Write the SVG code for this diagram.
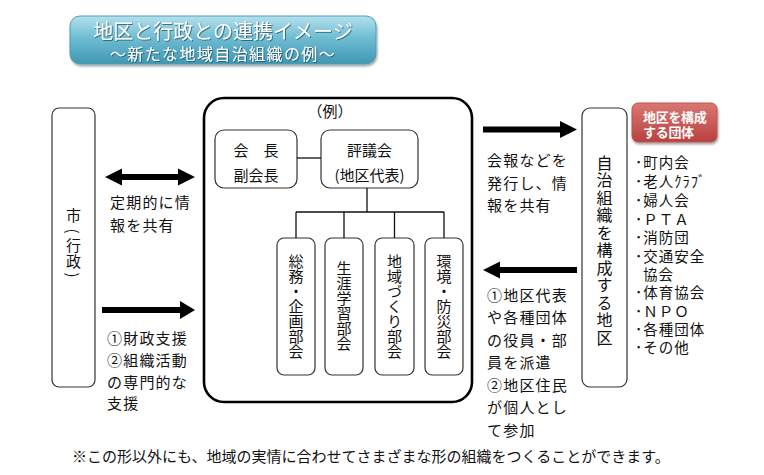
<svg xmlns="http://www.w3.org/2000/svg" width="764" height="475" viewBox="0 0 764 475">
<defs>
<linearGradient id="gTitle" x1="0" y1="0" x2="0" y2="1">
<stop offset="0" stop-color="#b5e0ec"/>
<stop offset="0.45" stop-color="#6fbdd3"/>
<stop offset="1" stop-color="#3f97b3"/>
</linearGradient>
<linearGradient id="gRed" x1="0" y1="0" x2="0" y2="1">
<stop offset="0" stop-color="#d97773"/>
<stop offset="1" stop-color="#b8423f"/>
</linearGradient>
<filter id="sh" x="-10%" y="-20%" width="120%" height="150%">
<feDropShadow dx="1" dy="2" stdDeviation="1.2" flood-color="#000" flood-opacity="0.35"/>
</filter>
<filter id="tsh" x="-5%" y="-20%" width="110%" height="150%">
<feDropShadow dx="0.8" dy="0.8" stdDeviation="0.7" flood-color="#164b5c" flood-opacity="0.9"/>
</filter>
</defs>
<style>
text{font-family:"Noto Sans CJK JP","Noto Sans CJK SC",sans-serif;fill:#111;}
.t15{font-size:15px;letter-spacing:1.2px;}
.box{fill:#fff;stroke:#333;stroke-width:1.2;}
.vt{writing-mode:vertical-rl;font-size:15px;text-anchor:middle;}
.ch{font-size:15px;text-anchor:middle;}
.ln{stroke:#111;stroke-width:1.3;fill:none;}
.arr{fill:#000;}
.lst{font-size:14.5px;letter-spacing:1px;}
</style>
<rect width="764" height="475" fill="#fff"/>

<g id="title">
<rect x="70" y="16" width="306" height="48" rx="10" fill="url(#gTitle)" stroke="#4a9fb8" stroke-width="1" filter="url(#sh)"/>
<text x="223" y="39" text-anchor="middle" style="font-size:20px;fill:#fff" filter="url(#tsh)">地区と行政との連携イメージ</text>
<text x="223" y="60" text-anchor="middle" style="font-size:16px;letter-spacing:1.4px;fill:#fff" filter="url(#tsh)">～新たな地域自治組織の例～</text>
</g>

<g id="city">
<rect class="box" x="52" y="108" width="43" height="279" rx="7"/>
<text class="ch" x="73.5" y="220.5">市</text>
<text class="ch" transform="translate(73.5,231) rotate(90)" dominant-baseline="central" x="0" y="0">(</text>
<text class="ch" x="73.5" y="251">行</text>
<text class="ch" x="73.5" y="267">政</text>
<text class="ch" transform="translate(73.5,275) rotate(90)" dominant-baseline="central" x="0" y="0">)</text>
</g>

<g id="example-frame">
<rect x="204" y="98" width="268" height="304" rx="20" fill="#fff" stroke="#000" stroke-width="2.6"/>
<text x="330" y="117" text-anchor="middle" style="font-size:15px">（例）</text>
</g>

<g id="chair">
<rect class="box" x="215" y="130" width="82" height="58" rx="9"/>
<text x="256" y="156" text-anchor="middle" style="font-size:15px">会　長</text>
<text x="256" y="181" text-anchor="middle" style="font-size:15px">副会長</text>
</g>

<g id="council">
<rect class="box" x="321" y="130" width="97" height="58" rx="9"/>
<text x="369.5" y="156" text-anchor="middle" style="font-size:15px">評議会</text>
<text x="369.5" y="181" text-anchor="middle" style="font-size:15px">(地区代表)</text>
</g>

<g id="sub1">
<rect class="box" x="277" y="238" width="38" height="137" rx="7"/>
<text class="vt" x="296" y="306">総務・企画部会</text>
</g>
<g id="sub2">
<rect class="box" x="325" y="238" width="38" height="137" rx="7"/>
<text class="vt" x="344" y="306">生涯学習部会</text>
</g>
<g id="sub3">
<rect class="box" x="375" y="238" width="39" height="137" rx="7"/>
<text class="vt" x="394.5" y="306">地域づくり部会</text>
</g>
<g id="sub4">
<rect class="box" x="425" y="238" width="38" height="137" rx="7"/>
<text class="vt" x="444" y="306">環境・防災部会</text>
</g>

<g id="district">
<rect class="box" x="582" y="108" width="45" height="279" rx="8"/>
<text class="vt" x="604.5" y="251" style="font-size:16px;letter-spacing:1.5px">自治組織を構成する地区</text>
</g>

<g id="groups-label">
<rect x="632" y="103" width="85" height="39" rx="6" fill="url(#gRed)" stroke="#c0504d" stroke-width="1" filter="url(#sh)"/>
<text x="643" y="121.5" style="font-size:13px;font-weight:bold;fill:#fff;letter-spacing:-0.3px">地区を構成</text>
<text x="643" y="137" style="font-size:13px;font-weight:bold;fill:#fff;letter-spacing:-0.3px">する団体</text>
</g>

<g id="groups-list">
<text class="lst" x="635" y="168">･町内会</text>
<text class="lst" x="635" y="187">･老人ｸﾗﾌﾞ</text>
<text class="lst" x="635" y="206">･婦人会</text>
<text class="lst" x="635" y="225">･ＰＴＡ</text>
<text class="lst" x="635" y="243">･消防団</text>
<text class="lst" x="635" y="262">･交通安全</text>
<text class="lst" x="643" y="280">協会</text>
<text class="lst" x="635" y="298">･体育協会</text>
<text class="lst" x="635" y="317">･ＮＰＯ</text>
<text class="lst" x="635" y="335">･各種団体</text>
<text class="lst" x="635" y="353">･その他</text>
</g>

<g id="connectors">
<path class="ln" d="M297 158 H321"/>
<path class="ln" d="M367 188 V212 M296 212 H444 M296 212 V238 M344 212 V238 M394.5 212 V238 M444 212 V238"/>
<polygon class="arr" points="105,177 122,168.5 122,174 178,174 178,168.5 195,177 178,185.5 178,180 122,180 122,185.5"/>
<polygon class="arr" points="102,307 180,307 180,301 195,310 180,319 180,313 102,313"/>
<polygon class="arr" points="483,126.5 560,126.5 560,121 577,129.5 560,138 560,132.5 483,132.5"/>
<polygon class="arr" points="577,267 500,267 500,261.5 483,270 500,278.5 500,273 577,273"/>
</g>

<g id="labels">
<text class="t15" x="110" y="207.5">定期的に情</text>
<text class="t15" x="110" y="230.5">報を共有</text>
<text class="t15" x="107" y="343.5">①財政支援</text>
<text class="t15" x="107" y="365.5">②組織活動</text>
<text class="t15" x="107" y="387.5">の専門的な</text>
<text class="t15" x="107" y="409">支援</text>
<text class="t15" x="487" y="166">会報などを</text>
<text class="t15" x="487" y="188.5">発行し、情</text>
<text class="t15" x="487" y="211">報を共有</text>
<text class="t15" x="487" y="300.5">①地区代表</text>
<text class="t15" x="487" y="323">や各種団体</text>
<text class="t15" x="487" y="345.5">の役員・部</text>
<text class="t15" x="487" y="368">員を派遣</text>
<text class="t15" x="487" y="390.5">②地区住民</text>
<text class="t15" x="487" y="413">が個人とし</text>
<text class="t15" x="487" y="435.5">て参加</text>
<text x="72" y="461.5" style="font-size:15px">※この形以外にも、地域の実情に合わせてさまざまな形の組織をつくることができます。</text>
</g>
</svg>
